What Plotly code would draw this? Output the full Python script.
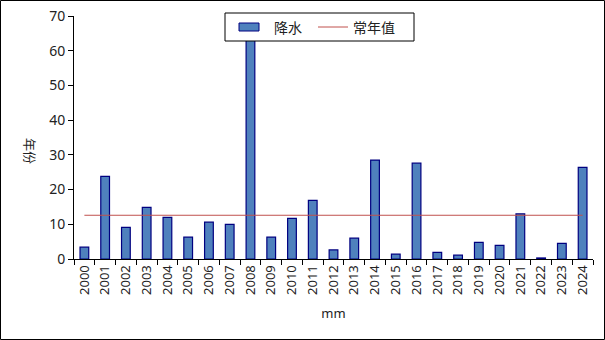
import plotly.graph_objects as go

years = [str(y) for y in range(2000, 2025)]
precip = [3.4, 23.8, 9.1, 14.9, 12.0, 6.3, 10.6, 10.0, 75.0, 6.3,
          11.7, 16.9, 2.6, 6.0, 28.5, 1.4, 27.6, 1.9, 1.1, 4.8,
          3.9, 13.0, 0.3, 4.5, 26.4]
normal_value = 12.6
normal = [normal_value] * len(years)

W, H = 605, 340
ml, mr, mt, mb = 74, 12, 16, 81
pw, ph = W - ml - mr, H - mt - mb

BAR_FILL, BAR_EDGE, LINE_C = "#4F81BD", "#000080", "#C0504D"
font = "Noto Sans, Noto Sans CJK SC, sans-serif"


def px(x):
    return (x - ml) / pw


def py(y):
    return (H - mb - y) / ph


fig = go.Figure()
fig.add_trace(go.Bar(
    x=years, y=precip, name="降水", width=0.42,
    marker=dict(color=BAR_FILL, line=dict(color=BAR_EDGE, width=1.2)),
))
fig.add_trace(go.Scatter(
    x=years, y=normal, name="常年值", mode="lines",
    line=dict(color=LINE_C, width=1),
))

shapes = [
    # outer border
    dict(type="rect", xref="paper", yref="paper",
         x0=px(0.5), x1=px(W - 0.5), y0=py(H - 0.5), y1=py(0.5),
         line=dict(color="black", width=1), layer="below"),
    # legend box
    dict(type="rect", xref="paper", yref="paper",
         x0=px(225), x1=px(414), y0=py(41), y1=py(13),
         fillcolor="white", line=dict(color="black", width=1), layer="above"),
    # bar swatch
    dict(type="rect", xref="paper", yref="paper",
         x0=px(239), x1=px(259), y0=py(31), y1=py(23),
         fillcolor=BAR_FILL, line=dict(color=BAR_EDGE, width=1), layer="above"),
    # line swatch
    dict(type="line", xref="paper", yref="paper",
         x0=px(318), x1=px(348), y0=py(27), y1=py(27),
         line=dict(color=LINE_C, width=1), layer="above"),
]

annotations = [
    dict(text="年份", textangle=90, xref="paper", yref="paper",
         x=px(30), y=py(151), showarrow=False,
         xanchor="center", yanchor="middle", font=dict(size=13)),
    dict(text="降水", xref="paper", yref="paper", x=px(272), y=py(27.5),
         showarrow=False, xanchor="left", yanchor="middle",
         font=dict(size=14, color="#222")),
    dict(text="常年值", xref="paper", yref="paper", x=px(351), y=py(27.5),
         showarrow=False, xanchor="left", yanchor="middle",
         font=dict(size=14, color="#222")),
]

fig.update_layout(
    width=W, height=H,
    margin=dict(l=ml, r=mr, t=mt, b=mb, autoexpand=False),
    paper_bgcolor="white", plot_bgcolor="white",
    font=dict(family=font, size=13, color="#222"),
    showlegend=False,
    bargap=0.5,
    xaxis=dict(
        type="category", tickangle=-90, showline=True, linecolor="black",
        linewidth=1, ticks="outside", ticklen=5, tickcolor="black",
        tickson="boundaries", showgrid=False, tickfont=dict(size=13),
        automargin=False,
        title=dict(text="mm", font=dict(size=13), standoff=14),
    ),
    yaxis=dict(
        range=[0, 70], dtick=10, showline=True, linecolor="black",
        linewidth=1, ticks="outside", ticklen=5, tickcolor="black",
        showgrid=False, zeroline=False, tickfont=dict(size=14),
        automargin=False,
    ),
    shapes=shapes,
    annotations=annotations,
)

fig.write_html("out.html")
